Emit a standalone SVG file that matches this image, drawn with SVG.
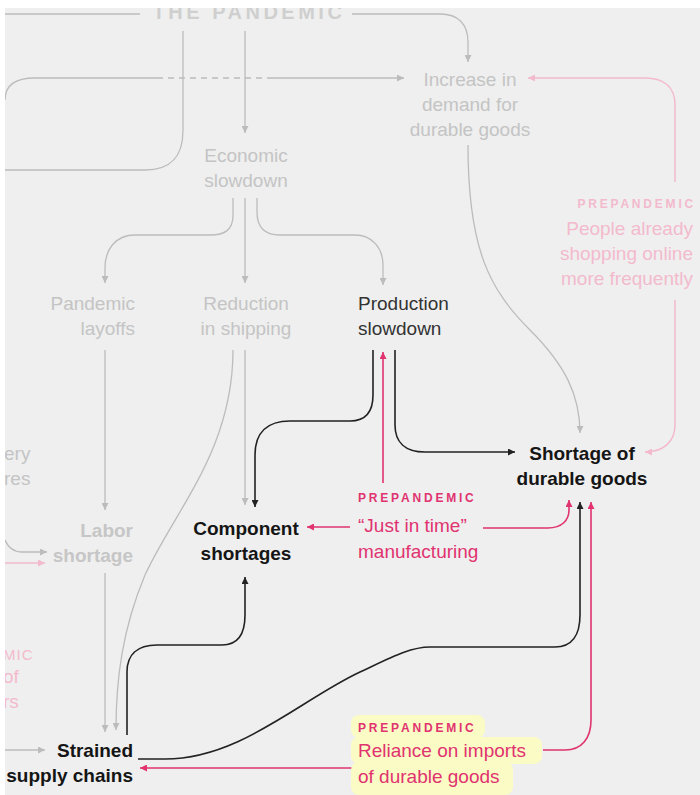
<svg xmlns="http://www.w3.org/2000/svg" width="700" height="795" viewBox="0 0 700 795">
<style>
text{font-family:"Liberation Sans",Arial,sans-serif;font-size:19px}
.g{fill:#c4c4c4}
.d{fill:#333}
.b{fill:#151515;font-weight:bold}
.gb{fill:#c6c6c6;font-weight:bold}
.pp{fill:#f3bacd}
.pk{fill:#e0336f}
.lab{font-size:12px;font-weight:bold;letter-spacing:2.8px}
.cg{fill:none;stroke:#bcbcbc;stroke-width:1.3}
.ck{fill:none;stroke:#222;stroke-width:1.6}
.cp{fill:none;stroke:#e0336f;stroke-width:1.6}
.cpp{fill:none;stroke:#f3bacd;stroke-width:1.5}
.hl{fill:#fbfbc6}
</style>
<defs>
<marker id="ag" viewBox="0 0 10 10" refX="10" refY="5" markerWidth="8" markerHeight="7" markerUnits="userSpaceOnUse" orient="auto"><path d="M0,0L10,5L0,10z" fill="#bcbcbc"/></marker>
<marker id="ak" viewBox="0 0 10 10" refX="10" refY="5" markerWidth="8" markerHeight="7" markerUnits="userSpaceOnUse" orient="auto"><path d="M0,0L10,5L0,10z" fill="#222"/></marker>
<marker id="ap" viewBox="0 0 10 10" refX="10" refY="5" markerWidth="8" markerHeight="7" markerUnits="userSpaceOnUse" orient="auto"><path d="M0,0L10,5L0,10z" fill="#e0336f"/></marker>
<marker id="app" viewBox="0 0 10 10" refX="10" refY="5" markerWidth="8" markerHeight="7" markerUnits="userSpaceOnUse" orient="auto"><path d="M0,0L10,5L0,10z" fill="#f3bacd"/></marker>
</defs>
<rect x="0" y="0" width="700" height="795" fill="#efefef"/>

<g id="connectors">
<path class="cg" d="M5,14H140"/>
<path class="cg" d="M352,14H440C458,14 468,24 468,42V62" marker-end="url(#ag)"/>
<path class="cg" d="M5,100C5,86 15,78 35,78H157"/>
<path class="cg" d="M157,78H267" stroke-dasharray="6,5"/>
<path class="cg" d="M267,78H404" marker-end="url(#ag)"/>
<path class="cg" d="M183,31V130C183,158 170,170 145,170H5"/>
<path class="cg" d="M245,31V133" marker-end="url(#ag)"/>
<path class="cg" d="M233,198V215C233,230 225,235 210,235H135C115,235 105,250 105,268V283" marker-end="url(#ag)"/>
<path class="cg" d="M245,198V283" marker-end="url(#ag)"/>
<path class="cg" d="M257,198V212C257,228 265,235 280,235H355C372,235 383,248 383,265V285" marker-end="url(#ag)"/>
<path class="cg" d="M105,350V510" marker-end="url(#ag)"/>
<path class="cg" d="M105,573V732" marker-end="url(#ag)"/>
<path class="cg" d="M245,350V505" marker-end="url(#ag)"/>
<path class="cg" d="M233,350C233,450 175,510 145,575C122,630 116,680 116,730" marker-end="url(#ag)"/>
<path class="cg" d="M468,145C468,250 490,290 530,330C565,365 580,395 580,433" marker-end="url(#ag)"/>
<path class="cg" d="M5,540C8,547 13,552 22,552H47" marker-end="url(#ag)"/>
<path class="cg" d="M5,750H45" marker-end="url(#ag)"/>

<path class="ck" d="M373,350V395C373,412 365,421 350,421H290C268,421 255,432 255,455V507" marker-end="url(#ak)"/>
<path class="ck" d="M395,350V425C395,442 405,452 425,452H515" marker-end="url(#ak)"/>
<path class="ck" d="M127,735V672C127,655 137,645 157,645H222C238,645 245,635 245,615V577" marker-end="url(#ak)"/>
<path class="ck" d="M138,759H165C240,759 300,700 360,672C390,658 410,647 430,647H555C572,647 580,635 580,615V502" marker-end="url(#ak)"/>

<path class="cp" d="M383,483V352" marker-end="url(#ap)"/>
<path class="cp" d="M350,527H307" marker-end="url(#ap)"/>
<path class="cp" d="M483,528H548C562,528 569,520 569,510V500" marker-end="url(#ap)"/>
<path class="cp" d="M543,750H565C582,750 591,738 591,720V502" marker-end="url(#ap)"/>
<path class="cp" d="M352,768H140" marker-end="url(#ap)"/>

<path class="cpp" d="M675,182V105C675,88 665,78 645,78H528" marker-end="url(#app)"/>
<path class="cpp" d="M675,300V425C675,442 663,452 645,452" marker-end="url(#app)"/>
<path class="cpp" d="M5,563H45" marker-end="url(#app)"/>
</g>

<g id="the-pandemic"><text x="249" y="19" text-anchor="middle" style="font-size:20px;font-weight:bold;letter-spacing:3.5px;fill:#cfcfcf">THE PANDEMIC</text></g>
<g id="increase-demand"><text class="g" text-anchor="middle" x="470"><tspan x="470" y="86">Increase in</tspan><tspan x="470" y="111">demand for</tspan><tspan x="470" y="136">durable goods</tspan></text></g>
<g id="economic-slowdown"><text class="g" text-anchor="middle"><tspan x="246" y="162">Economic</tspan><tspan x="246" y="187">slowdown</tspan></text></g>
<g id="pandemic-layoffs"><text class="g" text-anchor="end"><tspan x="135" y="310">Pandemic</tspan><tspan x="135" y="335">layoffs</tspan></text></g>
<g id="reduction-shipping"><text class="g" text-anchor="middle"><tspan x="246" y="310">Reduction</tspan><tspan x="246" y="335">in shipping</tspan></text></g>
<g id="production-slowdown"><text class="d"><tspan x="358" y="310">Production</tspan><tspan x="358" y="335">slowdown</tspan></text></g>
<g id="prepandemic-online"><text class="pp lab" text-anchor="end" x="696" y="208">PREPANDEMIC</text><text class="pp" text-anchor="end"><tspan x="693" y="235">People already</tspan><tspan x="693" y="260">shopping online</tspan><tspan x="693" y="285">more frequently</tspan></text></g>
<g id="fragment-left-1"><text class="g"><tspan x="4" y="460">ery</tspan><tspan x="4" y="485">res</tspan></text></g>
<g id="labor-shortage"><text class="gb" text-anchor="end"><tspan x="133" y="537">Labor</tspan><tspan x="133" y="562">shortage</tspan></text></g>
<g id="component-shortages"><text class="b" text-anchor="middle"><tspan x="246" y="535">Component</tspan><tspan x="246" y="560">shortages</tspan></text></g>
<g id="shortage-durable"><text class="b" text-anchor="middle"><tspan x="582" y="460">Shortage of</tspan><tspan x="582" y="485">durable goods</tspan></text></g>
<g id="just-in-time"><text class="pk lab" x="358" y="502">PREPANDEMIC</text><text class="pk"><tspan x="358" y="532">“Just in time”</tspan><tspan x="358" y="558">manufacturing</tspan></text></g>
<g id="fragment-left-2"><text class="pp"><tspan x="3" y="660" style="font-size:15px;letter-spacing:1px">MIC</tspan><tspan x="3" y="683">of</tspan><tspan x="3" y="708">rs</tspan></text></g>
<g id="strained-supply"><text class="b" text-anchor="end"><tspan x="133" y="757">Strained</tspan><tspan x="133" y="782">supply chains</tspan></text></g>
<g id="reliance-imports">
<rect class="hl" x="351" y="715" width="134" height="23" rx="8"/>
<rect class="hl" x="351" y="737" width="191" height="27" rx="8"/>
<rect class="hl" x="351" y="762" width="162" height="33" rx="8"/>
<text class="pk lab" x="358" y="732">PREPANDEMIC</text><text class="pk"><tspan x="358" y="757">Reliance on imports</tspan><tspan x="358" y="783">of durable goods</tspan></text></g>

<rect x="0" y="0" width="700" height="8" fill="#fff"/>
<rect x="0" y="0" width="5" height="795" fill="#fff"/>
</svg>
